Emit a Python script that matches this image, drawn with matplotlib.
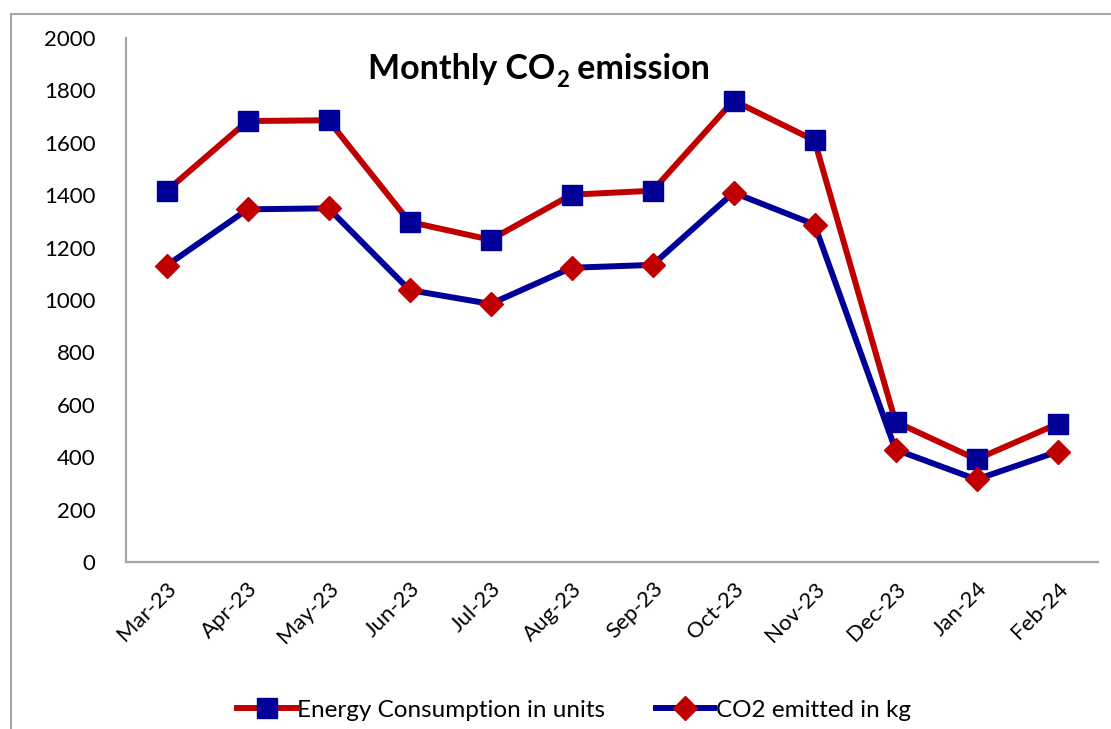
import matplotlib
matplotlib.use("Agg")
import matplotlib.pyplot as plt
from matplotlib.lines import Line2D

plt.rcParams['font.family'] = ['Lato', 'DejaVu Sans']

months = ["Mar-23", "Apr-23", "May-23", "Jun-23", "Jul-23", "Aug-23",
          "Sep-23", "Oct-23", "Nov-23", "Dec-23", "Jan-24", "Feb-24"]
energy_units = [1416, 1683, 1686, 1298, 1230, 1402, 1417, 1761, 1609, 535, 392, 527]
co2_kg = [1131, 1346, 1350, 1038, 985, 1123, 1134, 1410, 1288, 429, 315, 421]
yticks = [0, 200, 400, 600, 800, 1000, 1200, 1400, 1600, 1800, 2000]

RED = "#C00000"
BLUE = "#000099"
GRAY = "#A6A6A6"

W, H = 1111, 729
fig = plt.figure(figsize=(W / 100, H / 100), dpi=100)
ax = fig.add_axes([126 / W, (H - 562) / H, (1098 - 126) / W, (562 - 38) / H])

x = list(range(len(months)))
ax.plot(x, energy_units, color=RED, lw=4.3, marker='s', ms=14.5,
        mfc=BLUE, mec=BLUE, mew=1.0, solid_joinstyle='round',
        label="Energy Consumption in units", zorder=3)
ax.plot(x, co2_kg, color=BLUE, lw=4.3, marker='D', ms=12.5,
        mfc=RED, mec=RED, mew=1.0, solid_joinstyle='round',
        label="CO2 emitted in kg", zorder=3)

ax.set_xlim(-0.5, len(months) - 0.5)
ax.set_ylim(0, 2000)
ax.set_yticks(yticks)
ax.set_yticklabels([str(v) for v in yticks], fontsize=16)
ax.set_xticks(x)
ax.set_xticklabels(months, fontsize=16, rotation=45, ha='right',
                   va='top', rotation_mode='anchor')
ax.tick_params(axis='y', length=0, pad=22)
ax.tick_params(axis='x', length=0, pad=12)

for s in ['top', 'right']:
    ax.spines[s].set_visible(False)
for s in ['left', 'bottom']:
    ax.spines[s].set_color(GRAY)
    ax.spines[s].set_linewidth(1.6)

# title built from pieces so the subscript sits low as in the reference
renderer = fig.canvas.get_renderer()
base_y = 1 - 79 / H
t1 = fig.text(368 / W, base_y, "Monthly CO", fontsize=24.5, fontweight='bold',
              ha='left', va='baseline')
bb = t1.get_window_extent(renderer)
t2 = fig.text((bb.x1 + 1) / W, base_y - 8 / H, "2", fontsize=16, fontweight='bold',
              ha='left', va='baseline')
bb2 = t2.get_window_extent(renderer)
fig.text(bb2.x1 / W, base_y, " emission", fontsize=24.5, fontweight='bold',
         ha='left', va='baseline')

# chart border
fig.add_artist(Line2D([11 / W, 11 / W], [1 - 14 / H, 0], transform=fig.transFigure,
                      color=GRAY, lw=1.5))
fig.add_artist(Line2D([11 / W, 1.0], [1 - 14 / H, 1 - 14 / H], transform=fig.transFigure,
                      color=GRAY, lw=1.5))

fig.legend(loc='center', bbox_to_anchor=(574 / W, 1 - 710 / H), ncol=2,
           frameon=False, fontsize=17.5, handlelength=2.4, columnspacing=2.1,
           handletextpad=0.05)

fig.savefig("out.png", dpi=100)
